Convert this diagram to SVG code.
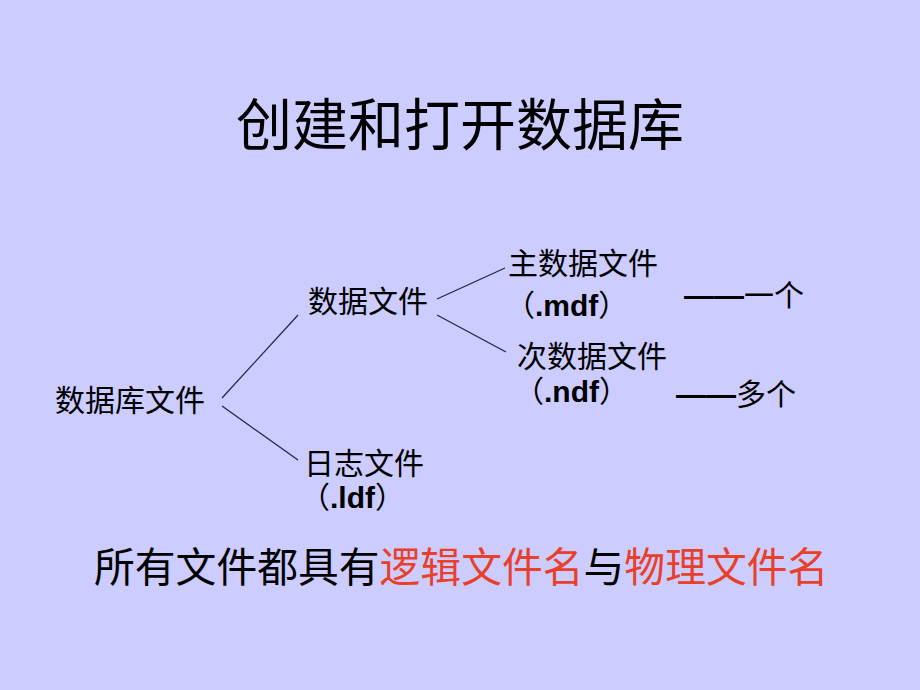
<svg xmlns="http://www.w3.org/2000/svg" width="920" height="690" viewBox="0 0 920 690">
<style>
text{font-family:"Noto Sans CJK SC","Liberation Sans",sans-serif;fill:#000}
.t{font-size:30px}
.lat{font-family:"Liberation Sans","Noto Sans CJK SC",sans-serif;font-weight:bold}
.dash{font-family:"Liberation Sans",sans-serif;font-weight:bold}
.red{fill:#E8402A}
.c{stroke:#222244;stroke-width:1.2;fill:none}
</style>
<rect width="920" height="690" fill="#CCCCFF"/>
<g id="title"><text x="460" y="145" font-size="56" text-anchor="middle">创建和打开数据库</text></g>
<g id="connectors">
<line class="c" x1="222" y1="398" x2="298" y2="315"/>
<line class="c" x1="222" y1="406" x2="298" y2="460"/>
<line class="c" x1="437" y1="299" x2="505" y2="268"/>
<line class="c" x1="437" y1="315" x2="506" y2="352"/>
</g>
<g id="dbfile"><text class="t" x="55" y="411">数据库文件</text></g>
<g id="datafile"><text class="t" x="308" y="312">数据文件</text></g>
<g id="mdf"><text class="t" x="508" y="274">主数据文件</text><text class="t" x="505" y="316">（<tspan class="lat">.mdf</tspan>）</text><text class="t" x="684" y="306"><tspan class="dash">——</tspan>一个</text></g>
<g id="ndf"><text class="t" x="517" y="367">次数据文件</text><text class="t" x="514" y="402">（<tspan class="lat">.ndf</tspan>）</text><text class="t" x="676" y="405"><tspan class="dash">——</tspan>多个</text></g>
<g id="ldf"><text class="t" x="304" y="474">日志文件</text><text class="t" x="300" y="508">（<tspan class="lat">.ldf</tspan>）</text></g>
<g id="note"><text x="94" y="582" font-size="40.8">所有文件都具有<tspan class="red">逻辑文件名</tspan>与<tspan class="red">物理文件名</tspan></text></g>
</svg>
